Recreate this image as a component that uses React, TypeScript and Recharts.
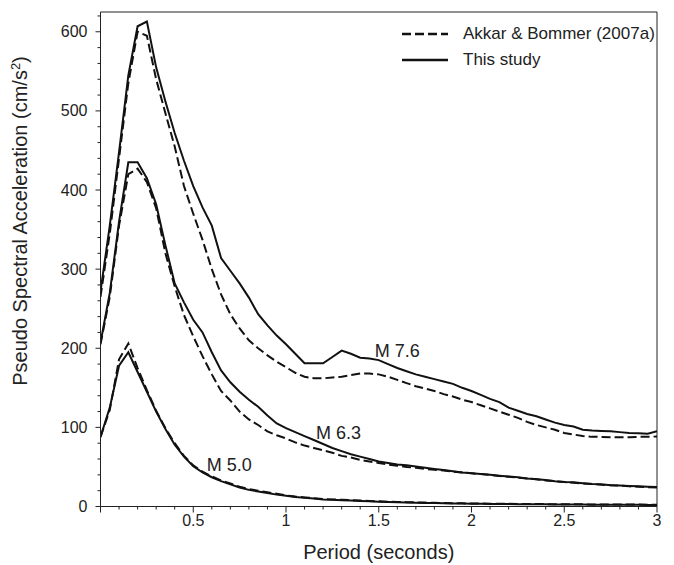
import React from 'react';
import {
  LineChart,
  Line,
  XAxis,
  YAxis,
  ReferenceLine,
  ReferenceDot,
  Legend,
} from 'recharts';

// Period (s) sampled every 0.05 s
const PERIODS = [
  0, 0.05, 0.1, 0.15, 0.2, 0.25, 0.3, 0.35, 0.4, 0.45,
  0.5, 0.55, 0.6, 0.65, 0.7, 0.75, 0.8, 0.85, 0.9, 0.95,
  1, 1.05, 1.1, 1.15, 1.2, 1.25, 1.3, 1.35, 1.4, 1.45,
  1.5, 1.55, 1.6, 1.65, 1.7, 1.75, 1.8, 1.85, 1.9, 1.95,
  2, 2.05, 2.1, 2.15, 2.2, 2.25, 2.3, 2.35, 2.4, 2.45,
  2.5, 2.55, 2.6, 2.65, 2.7, 2.75, 2.8, 2.85, 2.9, 2.95,
  3,
];

// PSA (cm/s^2), "This study"
const M76_THIS = [
  272, 355, 448, 545, 607, 613, 555, 512, 472, 437,
  405, 378, 355, 314, 298, 282, 264, 243, 229, 216,
  205, 193, 181, 181, 181, 189, 197, 193, 188, 187,
  185, 180, 175, 171, 167, 164, 161, 158, 155, 150,
  146, 141, 136, 132, 125, 121, 117, 114, 110, 106,
  103, 101, 97, 96, 95.5, 95, 94, 93, 92.5, 92,
  95,
];
const M63_THIS = [
  207, 270, 360, 435, 435, 415, 382, 330, 282, 258,
  236, 220, 195, 172, 157, 145, 135, 126, 115, 105,
  99, 94, 89, 84, 79, 74, 70, 66, 63, 60,
  57, 55, 53, 52, 50.5, 49, 47.5, 46, 44.5, 43,
  42, 41, 40, 39, 38, 37, 35.5, 34.5, 33.5, 32,
  31, 30.5, 29.5, 28.5, 28, 27, 26.5, 26, 25.5, 25,
  24.5,
];
const M50_THIS = [
  88, 125, 178, 195, 170, 145, 120, 98, 78, 63,
  51, 43, 37, 32, 28, 24, 21, 19, 17, 15,
  13.5, 12, 11, 10, 9, 8.5, 8, 7.5, 7, 6.5,
  6, 5.7, 5.4, 5.1, 4.8, 4.5, 4.3, 4.1, 3.9, 3.7,
  3.5, 3.4, 3.3, 3.2, 3.1, 3, 2.9, 2.8, 2.7, 2.6,
  2.5, 2.45, 2.4, 2.35, 2.3, 2.25, 2.2, 2.15, 2.1, 2.05,
  2,
];

// PSA (cm/s^2), Akkar & Bommer (2007a)
const M76_AB = [
  265, 345, 440, 535, 600, 595, 540, 497, 455, 405,
  370, 337, 300, 268, 243, 225, 210, 200, 191, 183,
  176, 169, 164, 162, 162, 163, 164, 166, 168, 168,
  167, 164, 160, 156, 152, 149, 146, 142, 139, 135,
  132, 128, 124, 120, 116, 112, 107, 103, 100, 97,
  93, 91, 89, 88, 88, 87.5, 87.5, 87.5, 88, 88,
  88.5,
];
const M63_AB = [
  205, 265, 355, 420, 427, 410, 377, 320, 278, 242,
  215, 190, 167, 146, 134, 120, 110, 103, 95, 90,
  86, 81, 77, 74, 71, 68, 64, 62, 59, 57,
  55, 53, 51.5, 50, 49, 47.5, 46.5, 45.5, 44, 43,
  42, 41, 40, 38.5, 37.5, 36.5, 35.5, 34.5, 33, 32,
  31, 30, 29, 28.5, 27.5, 27, 26.5, 25.5, 25, 24.5,
  24,
];
const M50_AB = [
  88, 122, 186, 206, 175, 147, 121, 99, 80, 64,
  52, 44, 38, 33, 29, 25, 22, 20, 18, 16,
  14, 12.5, 11.5, 10.5, 9.5, 9, 8.5, 8, 7.5, 7,
  6.5, 6.1, 5.8, 5.5, 5.2, 4.9, 4.6, 4.4, 4.2, 4,
  3.8, 3.7, 3.6, 3.5, 3.4, 3.3, 3.2, 3.1, 3, 2.9,
  2.8, 2.75, 2.7, 2.65, 2.6, 2.55, 2.5, 2.45, 2.4, 2.35,
  2.3,
];

const MAG_LABELS = [
  { text: 'M 7.6', period: 1.6, psa: 197 },
  { text: 'M 6.3', period: 1.283, psa: 94 },
  { text: 'M 5.0', period: 0.694, psa: 53 },
];

const X_TICKS = Array.from({ length: 31 }, (_, i) => Math.round(i) / 10);
const Y_TICKS = Array.from({ length: 32 }, (_, i) => i * 20);

const data = PERIODS.map((t, i) => ({
  t,
  m76This: M76_THIS[i],
  m63This: M63_THIS[i],
  m50This: M50_THIS[i],
  m76Ab: M76_AB[i],
  m63Ab: M63_AB[i],
  m50Ab: M50_AB[i],
}));

const FONT = '"Liberation Sans", Arial, Helvetica, sans-serif';
const INK = '#222';
const LINE = '#111';
const DASH = '9 4';

const XTick = ({ x, y, payload }: any) => {
  const v = payload.value;
  const major = Math.abs(v * 2 - Math.round(v * 2)) < 1e-6;
  return (
    <g>
      <line x1={x} y1={y} x2={x} y2={y + (major ? 6 : 3)} stroke={INK} strokeWidth={1} />
      {major && v > 0 && (
        <text x={x} y={y + 19} textAnchor="middle" fontSize={16} fontFamily={FONT} fill={INK}>
          {String(v)}
        </text>
      )}
    </g>
  );
};

const YTick = ({ x, y, payload }: any) => {
  const v = payload.value;
  const major = v % 100 === 0;
  return (
    <g>
      <line x1={x} y1={y} x2={x - (major ? 5 : 3)} y2={y} stroke={INK} strokeWidth={1} />
      {major && (
        <text x={x - 13} y={y + 5.5} textAnchor="end" fontSize={16} fontFamily={FONT} fill={INK}>
          {v}
        </text>
      )}
    </g>
  );
};

const YTitle = () => (
  <text
    x={27}
    y={221}
    transform="rotate(-90 27 221)"
    textAnchor="middle"
    fontSize={20}
    fontFamily={FONT}
    fill={INK}
  >
    Pseudo Spectral Acceleration (cm/s
    <tspan dy={-7} fontSize={13}>2</tspan>
    <tspan dy={7}>)</tspan>
  </text>
);

const LegendBox = () => (
  <div style={{ fontFamily: FONT, fontSize: 17, color: INK }}>
    {[
      { name: 'Akkar & Bommer (2007a)', dash: DASH },
      { name: 'This study', dash: undefined },
    ].map((row) => (
      <div key={row.name} style={{ display: 'flex', alignItems: 'center', height: 26 }}>
        <svg width={50} height={6}>
          <line x1={2} y1={3} x2={48} y2={3} stroke={LINE} strokeWidth={2.4} strokeDasharray={row.dash} />
        </svg>
        <span style={{ marginLeft: 13, whiteSpace: 'nowrap' }}>{row.name}</span>
      </div>
    ))}
  </div>
);

export default function App() {
  return (
    <div style={{ position: 'absolute', left: 0, top: 0, width: 674, height: 565, background: '#fff' }}>
      <LineChart
        width={674}
        height={565}
        data={data}
        margin={{ top: 12, right: 17, left: 0, bottom: 0 }}
      >
        <XAxis
          type="number"
          dataKey="t"
          domain={[0, 3]}
          ticks={X_TICKS}
          interval={0}
          tick={<XTick />}
          tickLine={false}
          tickSize={0}
          tickMargin={0}
          height={58.5}
          axisLine={{ stroke: INK }}
          allowDataOverflow
          label={{
            value: 'Period (seconds)',
            position: 'insideBottom',
            offset: 6,
            fontSize: 20,
            fontFamily: FONT,
            fill: INK,
          }}
        />
        <YAxis
          type="number"
          domain={[0, 625]}
          ticks={Y_TICKS}
          interval={0}
          tick={<YTick />}
          tickLine={false}
          tickSize={0}
          tickMargin={0}
          width={100.5}
          axisLine={{ stroke: INK }}
          allowDataOverflow
          label={{ content: () => <YTitle /> }}
        />
        <ReferenceLine y={625} stroke={INK} strokeWidth={1} />
        <ReferenceLine x={3} stroke={INK} strokeWidth={1} />

        <Line dataKey="m76Ab" type="linear" stroke={LINE} strokeWidth={2} strokeDasharray={DASH} dot={false} isAnimationActive={false} />
        <Line dataKey="m63Ab" type="linear" stroke={LINE} strokeWidth={2} strokeDasharray={DASH} dot={false} isAnimationActive={false} />
        <Line dataKey="m50Ab" type="linear" stroke={LINE} strokeWidth={2} strokeDasharray={DASH} dot={false} isAnimationActive={false} />
        <Line dataKey="m76This" type="linear" stroke={LINE} strokeWidth={2} dot={false} isAnimationActive={false} />
        <Line dataKey="m63This" type="linear" stroke={LINE} strokeWidth={2} dot={false} isAnimationActive={false} />
        <Line dataKey="m50This" type="linear" stroke={LINE} strokeWidth={2} dot={false} isAnimationActive={false} />

        {MAG_LABELS.map((m) => (
          <ReferenceDot
            key={m.text}
            x={m.period}
            y={m.psa}
            r={0}
            fill="none"
            stroke="none"
            label={{ value: m.text, position: 'center', fontSize: 18, fontFamily: FONT, fill: INK }}
          />
        ))}

        <Legend
          layout="horizontal"
          verticalAlign="middle"
          align="center"
          content={<LegendBox />}
          wrapperStyle={{ top: 21, left: 400, width: 270 }}
        />
      </LineChart>
    </div>
  );
}
